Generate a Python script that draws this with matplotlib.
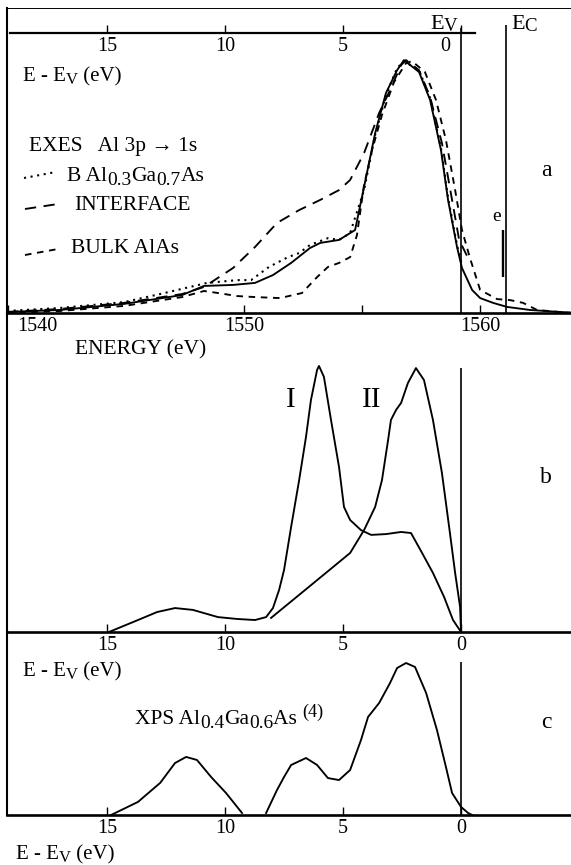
import matplotlib
matplotlib.use("Agg")

import matplotlib.pyplot as plt
import matplotlib.transforms as mtransforms
from matplotlib.lines import Line2D
import numpy as np

plt.rcParams["font.family"] = ["Liberation Serif", "DejaVu Serif"]

W, H = 571, 865

# x is E - Ev (eV), y is intensity in % of the main peak
# panel a: EXES Al 3p -> 1s
a_solid_x = [19.24, 16.99, 14.28, 11.82, 10.89, 9.66, 8.73, 7.97, 7.20, 6.40, 5.97, 5.17, 4.49,
             4.11, 3.64, 3.18, 2.71, 2.42, 1.78, 1.31, 0.85, 0.55, 0.17, -0.04, -0.47, -0.81,
             -1.36, -1.95, -2.92, -4.19, -4.66]
a_solid_y = [0.4, 1.2, 3.6, 7.1, 10.7, 11.1, 11.9, 15.0, 19.8, 25.7, 27.7, 28.9, 32.8,
             49.8, 71.1, 87.0, 96.0, 100.0, 95.3, 84.2, 64.4, 44.7, 26.1, 17.8, 9.1, 5.9,
             4.0, 2.4, 1.2, 0.4, 0.2]

a_dots_x = [19.24, 16.99, 14.28, 12.75, 10.76, 9.49, 8.90, 8.14, 7.33, 6.86, 6.40, 5.64, 5.17,
            4.70, 4.11, 3.64, 3.18, 2.71, 2.42, 1.78, 1.31, 0.85, 0.55, 0.17, -0.04]
a_dots_y = [0.8, 2.0, 4.3, 7.5, 11.9, 13.0, 13.0, 18.2, 22.1, 23.7, 26.9, 29.6, 28.9,
            31.6, 48.6, 70.4, 86.2, 96.8, 99.6, 96.0, 85.0, 65.2, 45.5, 26.9, 19.0]

a_iface_x = [19.24, 16.99, 14.28, 11.82, 10.89, 9.66, 8.73, 7.80, 6.86, 5.97, 5.17, 4.70, 4.11,
             3.47, 3.01, 2.54, 2.33, 1.78, 1.31, 0.81, 0.38, 0.08, -0.30]
a_iface_y = [0.4, 1.6, 4.0, 7.5, 10.3, 17.8, 26.1, 35.6, 40.7, 44.7, 48.6, 52.6, 63.2,
             79.1, 88.1, 98.0, 100.0, 96.0, 85.4, 67.2, 44.7, 28.9, 21.7]

a_bulk_x = [19.24, 16.99, 14.28, 11.82, 10.89, 10.30, 9.49, 8.73, 7.67, 6.74, 6.10, 5.64, 5.17,
            4.70, 4.41, 4.11, 3.77, 3.35, 2.84, 2.33, 2.08, 1.53, 1.06, 0.64, 0.25, -0.04,
            -0.38, -0.81, -1.53, -2.08, -2.63, -3.22, -4.66]
a_bulk_y = [0.0, 0.8, 2.8, 6.3, 8.7, 7.9, 6.7, 6.3, 5.9, 7.9, 14.2, 18.2, 19.8,
            22.1, 30.8, 50.6, 64.4, 78.3, 91.3, 98.8, 99.6, 95.3, 84.2, 68.4, 48.6, 32.8,
            21.7, 9.1, 5.5, 5.1, 4.0, 1.2, 0.0]

# panel b: curves I and II
b_one_x = [14.92, 13.69, 12.88, 12.12, 11.36, 10.30, 9.49, 8.73, 8.26, 7.97, 7.71, 7.50, 7.20,
           6.86, 6.57, 6.36, 6.10, 6.02, 5.81, 5.51, 5.17, 4.96, 4.70, 4.24, 3.81, 3.18,
           2.54, 2.12, 1.65, 1.19, 0.72, 0.34, 0.0]
b_one_y = [0.0, 4.5, 7.5, 9.0, 8.3, 5.6, 4.9, 4.5, 5.6, 9.0, 15.8, 23.3, 39.5,
           57.1, 73.3, 87.2, 98.5, 100.0, 95.9, 79.7, 62.0, 47.0, 42.1, 38.3, 36.5, 36.8,
           37.6, 37.2, 29.7, 22.2, 13.2, 4.5, 0.0]

b_two_x = [8.05, 6.40, 4.70, 4.11, 3.64, 3.35, 3.09, 2.97, 2.75, 2.54, 2.25, 1.91, 1.57, 1.19,
           0.81, 0.47, 0.25, 0.04, 0.0]
b_two_y = [5.3, 17.3, 29.7, 38.3, 47.0, 57.1, 72.2, 79.7, 83.5, 86.1, 93.6, 99.2, 94.7, 79.7,
           59.8, 37.2, 22.2, 9.4, 0.0]

# panel c: XPS Al0.4Ga0.6As
c_xps_x = [14.83, 13.69, 12.75, 12.12, 11.65, 11.19, 10.59, 9.96, 9.28, np.nan,
           8.26, 7.80, 7.50, 7.20, 6.57, 6.10, 5.64, 5.17, 4.70, 4.24, 3.94, 3.47, 3.01,
           2.71, 2.33, 1.95, 1.48, 1.02, 0.64, 0.38, 0.0, -0.30, -0.47]
c_xps_y = [0.0, 8.6, 21.1, 34.2, 38.2, 36.2, 25.0, 14.5, 1.3, np.nan,
           1.3, 16.4, 25.0, 32.9, 37.5, 32.9, 24.3, 23.0, 29.6, 49.3, 64.5, 73.7, 86.8,
           96.7, 100.0, 97.4, 80.3, 55.9, 31.6, 14.5, 5.3, 1.3, 0.0]

ev_ticks = [15, 10, 5, 0]
energy_ticks = [1540, 1550, 1555, 1560]
energy_labels = ["1540", "1550", "", "1560"]
EV_ENERGY = 1559.2
EC = -1.91

XLIM = (19.24, -4.66)

LW = 1.35


def fig_xy(px, py):
    return px / W, 1 - py / H


def style_axes(ax, ylim, top=False):
    ax.set_xlim(XLIM)
    ax.set_ylim(0, ylim)
    ax.spines["right"].set_visible(False)
    ax.spines["top"].set_visible(top)
    ax.spines["top"].set_linewidth(0.7)
    ax.spines["left"].set_linewidth(1.5)
    ax.spines["bottom"].set_linewidth(1.9)
    ax.set_yticks([])
    ax.tick_params(axis="x", direction="in", length=6, width=1.0, labelsize=14.5, pad=3)
    ax.patch.set_visible(False)


def rich_text(fig, px, py, pieces, size):
    # pieces: (text, relative size, downward shift in px); py is the baseline
    renderer = fig.canvas.get_renderer()
    x = px
    for s, scale, dy in pieces:
        fx, fy = fig_xy(x, py + dy)
        t = fig.text(fx, fy, s, fontsize=size * scale, ha="left", va="baseline")
        x += t.get_window_extent(renderer).width


fig = plt.figure(figsize=(W / 100, H / 100), dpi=100)

ax_a = fig.add_axes([7 / W, 1 - 313 / H, 564 / W, 305 / H])
ax_b = fig.add_axes([7 / W, 1 - 632 / H, 564 / W, 319 / H])
ax_c = fig.add_axes([7 / W, 1 - 815 / H, 564 / W, 183 / H])
ax_top = fig.add_axes([10 / W, 1 - 33 / H, 465 / W, 0.0001])

style_axes(ax_a, 120.6, top=True)
style_axes(ax_b, 119.9)
style_axes(ax_c, 120.4)

# panel a
ax_a.plot(a_solid_x, a_solid_y, color="k", lw=LW)
ax_a.plot(a_dots_x, a_dots_y, color="k", lw=1.5, ls=(0, (1, 2.2)))
ax_a.plot(a_iface_x, a_iface_y, color="k", lw=LW, ls=(0, (6, 4)))
ax_a.plot(a_bulk_x, a_bulk_y, color="k", lw=LW, ls=(0, (3.5, 3)))
ax_a.vlines(0, 0, 112.6, color="k", lw=1.2)
ax_a.vlines(EC, 0, 113.8, color="k", lw=1.2)
ax_a.vlines(-1.78, 14.2, 32.8, color="k", lw=1.7)

ax_a.set_xticks([EV_ENERGY - e for e in energy_ticks])
ax_a.set_xticklabels(energy_labels)
lbl = ax_a.get_xticklabels()[0]
lbl.set_transform(lbl.get_transform() + mtransforms.ScaledTranslation(0.29, 0, fig.dpi_scale_trans))

ax_top.set_xlim((461 - 10) / 23.6, (461 - 475) / 23.6)
for side in ["left", "right", "top"]:
    ax_top.spines[side].set_visible(False)
ax_top.spines["bottom"].set_linewidth(1.6)
ax_top.set_yticks([])
ax_top.set_xticks(ev_ticks)
ax_top.set_xticklabels([str(t) for t in ev_ticks])
ax_top.tick_params(axis="x", direction="in", length=6, width=1.0, labelsize=14.5, pad=3)
lbl = ax_top.get_xticklabels()[-1]
lbl.set_transform(lbl.get_transform() + mtransforms.ScaledTranslation(-0.16, 0, fig.dpi_scale_trans))

# panel b
ax_b.plot(b_one_x, b_one_y, color="k", lw=LW)
ax_b.plot(b_two_x, b_two_y, color="k", lw=LW)
ax_b.vlines(0, 0, 99.2, color="k", lw=1.2)
ax_b.set_xticks(ev_ticks)
ax_b.set_xticklabels([str(t) for t in ev_ticks])

# panel c
ax_c.plot(c_xps_x, c_xps_y, color="k", lw=LW)
ax_c.vlines(0, 0, 100.7, color="k", lw=1.2)
ax_c.set_xticks(ev_ticks)
ax_c.set_xticklabels([str(t) for t in ev_ticks])

# legend of panel a
samples = [((24, 178), (56, 172), (0, (1, 2.2)), 1.5),
           ((25, 209), (58, 204), (0, (6, 4)), LW),
           ((25, 255), (58, 249), (0, (3.5, 3)), LW)]
for p0, p1, ls, lw in samples:
    x0, y0 = fig_xy(*p0)
    x1, y1 = fig_xy(*p1)
    fig.add_artist(Line2D([x0, x1], [y0, y1], transform=fig.transFigure, color="k", lw=lw, ls=ls))

texts = [
    ((29, 147), "EXES   Al 3p \u2192 1s", 15.5, "left"),
    ((74, 205), "INTERFACE", 15.5, "left"),
    ((71, 248), "BULK AlAs", 15.5, "left"),
    ((497, 217), "e", 14, "center"),
    ((546, 170), "a", 17, "center"),
    ((75, 350), "ENERGY (eV)", 15.5, "left"),
    ((291, 400), "I", 21, "center"),
    ((372, 400), "II", 21, "center"),
    ((546, 478), "b", 17, "center"),
    ((546, 723), "c", 17, "center"),
]
for (px, py), s, size, ha in texts:
    fx, fy = fig_xy(px, py)
    fig.text(fx, fy, s, fontsize=size, ha=ha, va="center")

ev_label = [("E - E", 1, 0), ("V", 0.8, 3), (" (eV)", 1, 0)]
rich_text(fig, 23, 81, ev_label, 15)
rich_text(fig, 23, 676, ev_label, 15)
rich_text(fig, 16, 859, ev_label, 15)
rich_text(fig, 430, 29, [("E", 1, 0), ("V", 0.85, 2)], 16)
rich_text(fig, 511, 29, [("E", 1, 0), ("C", 0.85, 2)], 16)
rich_text(fig, 67, 181, [("B Al", 1, 0), ("0.3", 0.9, 4), ("Ga", 1, 0), ("0.7", 0.9, 4),
                         ("As", 1, 0)], 15.5)
rich_text(fig, 135, 724, [("XPS Al", 1, 0), ("0.4", 0.9, 4), ("Ga", 1, 0), ("0.6", 0.9, 4),
                          ("As ", 1, 0), ("(4)", 0.85, -7)], 15.5)

fig.savefig("out.png", dpi=100, facecolor="white")
